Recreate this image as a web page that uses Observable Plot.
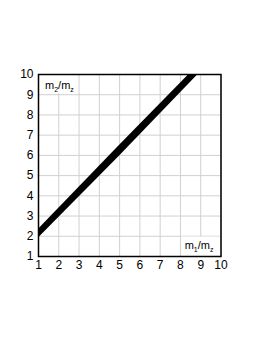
<!DOCTYPE html>
<html>
<head>
<meta charset="utf-8">
<script src="https://cdn.jsdelivr.net/npm/d3@7"></script>
<script src="https://cdn.jsdelivr.net/npm/@observablehq/plot@0.6"></script>
<style>
  html, body { margin: 0; padding: 0; background: #fff; }
  svg { display: block; }
</style>
</head>
<body>
<div id="chart"></div>
<script>
// Band edges (m1/mz on x, m2/mz on y)
const bandX = [1, 5, 8.87];
const bandLower = [1.92, 5.97, 10];
const bandUpper = [2.35, 6.5, 10.46];

const xTicks = [1, 2, 3, 4, 5, 6, 7, 8, 9, 10];
const yTicks = [1, 2, 3, 4, 5, 6, 7, 8, 9, 10];

const yLabel = {main: "m", sub1: "2", mid: "/m", sub2: "z"};
const xLabel = {main: "m", sub1: "1", mid: "/m", sub2: "z"};

const band = bandX.map((x, i) => ({x, lo: bandLower[i], hi: bandUpper[i]}));

const font = "Liberation Sans, Arial, Helvetica, sans-serif";

const plot = Plot.plot({
  width: 273,
  height: 353,
  marginLeft: 38,
  marginRight: 52.5,
  marginTop: 74,
  marginBottom: 97,
  style: {fontFamily: font, background: "#fff", color: "#000"},
  x: {domain: [1, 10]},
  y: {domain: [1, 10]},
  marks: [
    Plot.gridX(xTicks, {stroke: "#d0d0d0", strokeOpacity: 1}),
    Plot.gridY(yTicks, {stroke: "#d0d0d0", strokeOpacity: 1}),
    Plot.rect([{x1: 1, x2: 2.95, y1: 9.04, y2: 10}], {x1: "x1", x2: "x2", y1: "y1", y2: "y2", fill: "#fff"}),
    Plot.rect([{x1: 8.05, x2: 10, y1: 1, y2: 1.96}], {x1: "x1", x2: "x2", y1: "y1", y2: "y2", fill: "#fff"}),
    Plot.areaY(band, {x: "x", y1: "lo", y2: "hi", fill: "#000", clip: true}),
    Plot.frame({stroke: "#000", strokeWidth: 1.5}),
    Plot.axisX(xTicks, {tickSize: 0, tickPadding: 4, fontSize: 12, label: null}),
    Plot.axisY(yTicks, {tickSize: 0, tickPadding: 5, fontSize: 12, label: null})
  ]
});

const svg = d3.select(plot);
const sx = plot.scale("x"), sy = plot.scale("y");

function addLabel(lbl, xv, yv, anchor, dx, dy) {
  const t = svg.append("text")
    .attr("x", sx.apply(xv) + dx)
    .attr("y", sy.apply(yv) + dy)
    .attr("text-anchor", anchor)
    .attr("font-family", font)
    .attr("font-size", 11)
    .attr("fill", "#000");
  t.append("tspan").text(lbl.main);
  t.append("tspan").attr("font-size", 7).attr("dy", 2.5).text(lbl.sub1);
  t.append("tspan").attr("dy", -2.5).text(lbl.mid);
  t.append("tspan").attr("font-size", 7).attr("dy", 2.5).text(lbl.sub2);
}
addLabel(yLabel, 1, 10, "start", 7, 15);
addLabel(xLabel, 10, 1, "end", -7, -7);

document.getElementById("chart").appendChild(plot);
</script>
</body>
</html>
